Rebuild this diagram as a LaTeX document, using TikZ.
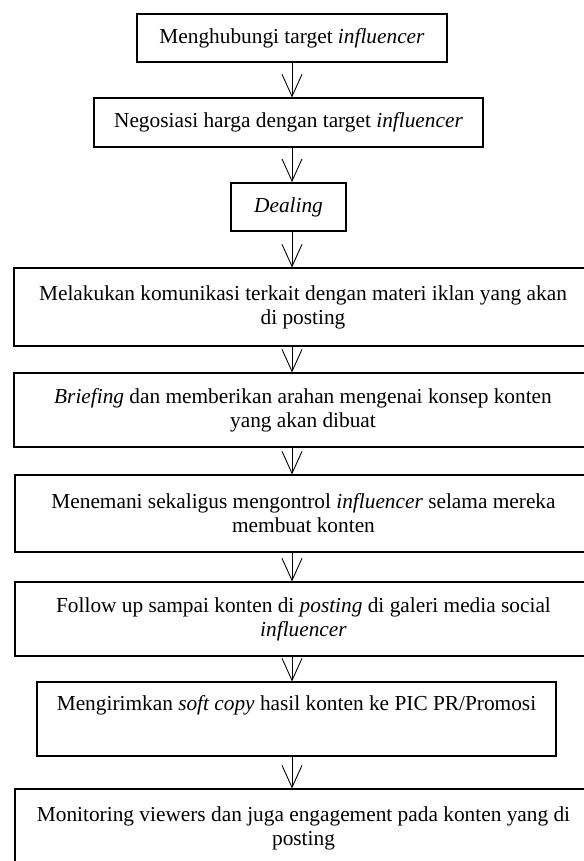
\documentclass[tikz,border=0pt]{standalone}
\usepackage{fontspec}
\setmainfont{Liberation Serif}
\usetikzlibrary{arrows.meta}
\newlength\pxu
\setlength\pxu{0.5625pt}
\tikzset{
  stepbox/.style={draw, line width=0.6pt, inner sep=0pt, align=center, font=\fontsize{12}{13.5}\selectfont},
  boldbox/.style={stepbox, line width=1pt},
  flow/.style={line width=0.5pt, -{Straight Barb[length=12.4pt, width=11.25pt]}}
}
\begin{document}
\begin{tikzpicture}[x=0.5625pt, y=-0.5625pt]
  \useasboundingbox (0,0) rectangle (584,861);
  \clip (0,0) rectangle (584,861);
  \coordinate (ax) at (292,0);
  \node[boldbox, minimum width=310\pxu, minimum height=48\pxu] (contact) at (292,38) {Menghubungi target \textit{influencer}};
  \node[stepbox, minimum width=389\pxu, minimum height=49\pxu] (nego) at (288.5,122.5) {Negosiasi harga dengan target \textit{influencer}};
  \node[boldbox, minimum width=115\pxu, minimum height=48\pxu] (deal) at (288.5,207) {\textit{Dealing}};
  \node[stepbox, minimum width=578\pxu, minimum height=78\pxu] (comm) at (303,307) {Melakukan komunikasi terkait dengan materi iklan yang akan\\di posting};
  \node[stepbox, minimum width=578\pxu, minimum height=74\pxu] (brief) at (303,410) {\textit{Briefing} dan memberikan arahan mengenai konsep konten\\yang akan dibuat};
  \node[stepbox, minimum width=577\pxu, minimum height=77\pxu] (accomp) at (303.5,513.5) {Menemani sekaligus mengontrol \textit{influencer} selama mereka\\membuat konten};
  \node[stepbox, minimum width=577\pxu, minimum height=74\pxu] (follow) at (303.5,619) {Follow up sampai konten di \textit{posting} di galeri media social\\\textit{influencer}};
  \node[stepbox, minimum width=519\pxu, minimum height=74\pxu] (send) at (296.5,719) {Mengirimkan \textit{soft copy} hasil konten ke PIC PR/Promosi\\\strut};
  \node[stepbox, minimum width=577\pxu, minimum height=78\pxu] (monitor) at (303.5,828) {Monitoring viewers dan juga engagement pada konten yang di\\posting};
  \draw[flow] (contact.south -| ax) -- (nego.north -| ax);
  \draw[flow] (nego.south -| ax) -- (deal.north -| ax);
  \draw[flow] (deal.south -| ax) -- (comm.north -| ax);
  \draw[flow] (comm.south -| ax) -- (brief.north -| ax);
  \draw[flow] (brief.south -| ax) -- (accomp.north -| ax);
  \draw[flow] (accomp.south -| ax) -- (follow.north -| ax);
  \draw[flow] (follow.south -| ax) -- (send.north -| ax);
  \draw[flow] (send.south -| ax) -- (monitor.north -| ax);
\end{tikzpicture}
\end{document}
